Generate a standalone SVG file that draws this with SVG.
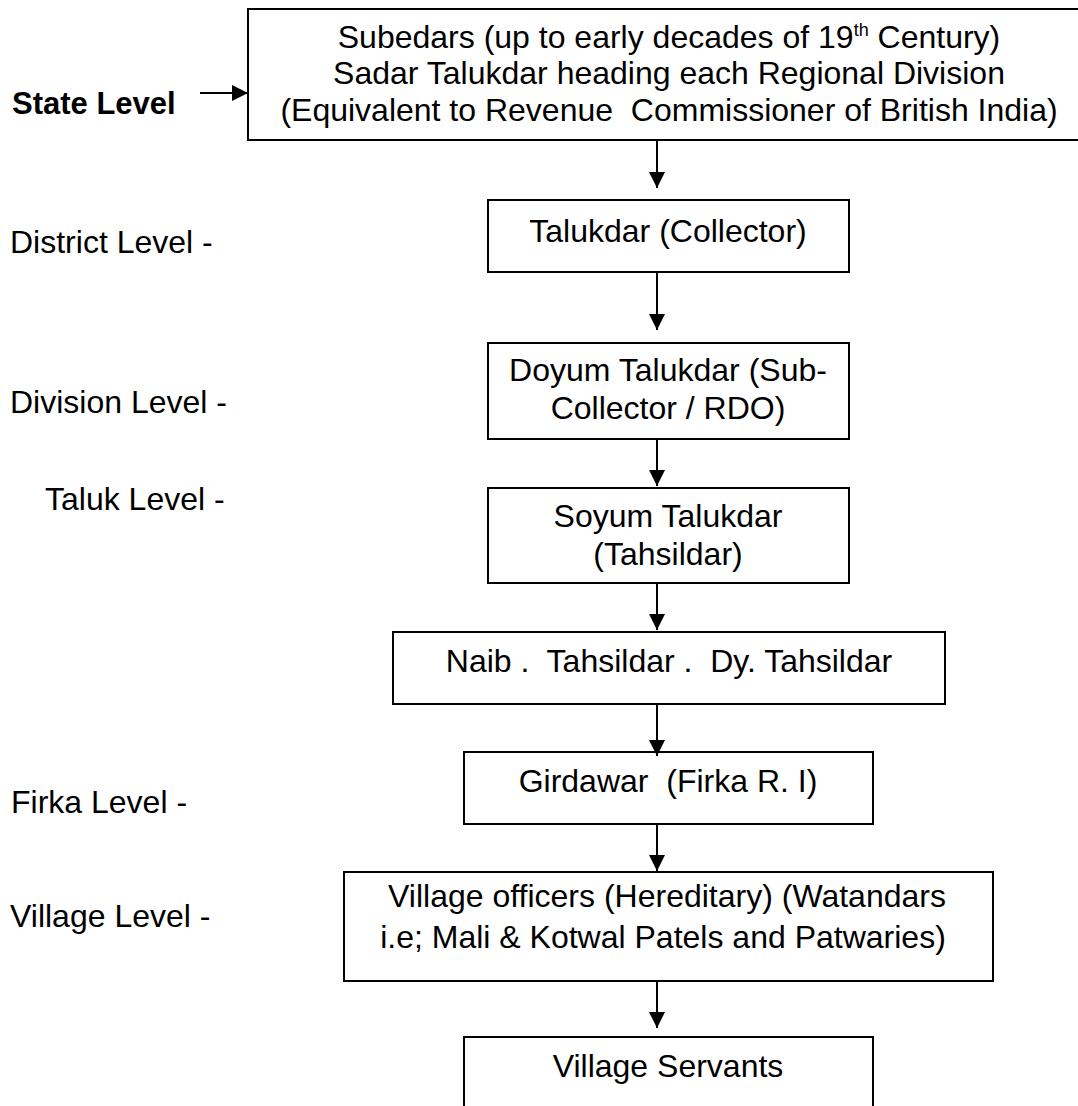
<svg xmlns="http://www.w3.org/2000/svg" width="1078" height="1106" viewBox="0 0 1078 1106">
<style>
  .box { fill: #ffffff; stroke: #000000; stroke-width: 2; }
  .t { font-family: "Liberation Sans", Arial, sans-serif; font-size: 32px; fill: #000000; text-anchor: middle; }
  .lbl { font-family: "Liberation Sans", Arial, sans-serif; font-size: 32px; fill: #000000; }
  .bold { font-weight: bold; font-size: 31px; }
  .conn { stroke: #000000; stroke-width: 2; fill: none; marker-end: url(#ah); }
</style>
<defs>
  <marker id="ah" markerUnits="userSpaceOnUse" markerWidth="16" markerHeight="16" refX="16" refY="8" orient="auto">
    <path d="M0,0 L16,8 L0,16 Z" fill="#000000"/>
  </marker>
</defs>
<rect width="1078" height="1106" fill="#ffffff"/>

<g id="labels">
  <text class="lbl bold" x="12" y="114">State Level</text>
  <text class="lbl" x="10" y="253">District Level -</text>
  <text class="lbl" x="10" y="413">Division Level -</text>
  <text class="lbl" x="45" y="510">Taluk Level -</text>
  <text class="lbl" x="11" y="813">Firka Level -</text>
  <text class="lbl" x="10" y="927">Village Level -</text>
</g>

<g id="node-state">
  <rect class="box" x="248" y="9" width="841" height="131"/>
  <text class="t" x="669" y="48">Subedars (up to early decades of 19<tspan font-size="18" dy="-12">th</tspan><tspan dy="12"> Century)</tspan></text>
  <text class="t" x="669" y="84">Sadar Talukdar heading each Regional Division</text>
  <text class="t" x="669" y="121" xml:space="preserve">(Equivalent to Revenue  Commissioner of British India)</text>
</g>

<g id="node-talukdar">
  <rect class="box" x="488" y="200" width="361" height="72"/>
  <text class="t" x="668" y="242">Talukdar (Collector)</text>
</g>

<g id="node-doyum">
  <rect class="box" x="488" y="343" width="361" height="96"/>
  <text class="t" x="668" y="381">Doyum Talukdar (Sub-</text>
  <text class="t" x="668" y="419">Collector / RDO)</text>
</g>

<g id="node-soyum">
  <rect class="box" x="488" y="488" width="361" height="95"/>
  <text class="t" x="668" y="527">Soyum Talukdar</text>
  <text class="t" x="668" y="565">(Tahsildar)</text>
</g>

<g id="node-naib">
  <rect class="box" x="393" y="632" width="552" height="72"/>
  <text class="t" x="669" y="672" xml:space="preserve">Naib .  Tahsildar .  Dy. Tahsildar</text>
</g>

<g id="node-girdawar">
  <rect class="box" x="464" y="752" width="409" height="72"/>
  <text class="t" x="668" y="792" xml:space="preserve">Girdawar  (Firka R. I)</text>
</g>

<g id="node-village-officers">
  <rect class="box" x="344" y="872" width="649" height="109"/>
  <text class="t" x="667" y="907">Village officers (Hereditary) (Watandars</text>
  <text class="t" x="663" y="948">i.e; Mali &amp; Kotwal Patels and Patwaries)</text>
</g>

<g id="node-village-servants">
  <rect class="box" x="464" y="1037" width="409" height="90"/>
  <text class="t" x="668" y="1077">Village Servants</text>
</g>

<g id="connectors">
  <line class="conn" x1="200" y1="93" x2="248" y2="93"/>
  <line class="conn" x1="657" y1="140" x2="657" y2="188"/>
  <line class="conn" x1="657" y1="272" x2="657" y2="330"/>
  <line class="conn" x1="657" y1="439" x2="657" y2="486"/>
  <line class="conn" x1="657" y1="583" x2="657" y2="630"/>
  <line class="conn" x1="657" y1="704" x2="657" y2="756"/>
  <line class="conn" x1="657" y1="824" x2="657" y2="871"/>
  <line class="conn" x1="657" y1="981" x2="657" y2="1028"/>
</g>
</svg>
